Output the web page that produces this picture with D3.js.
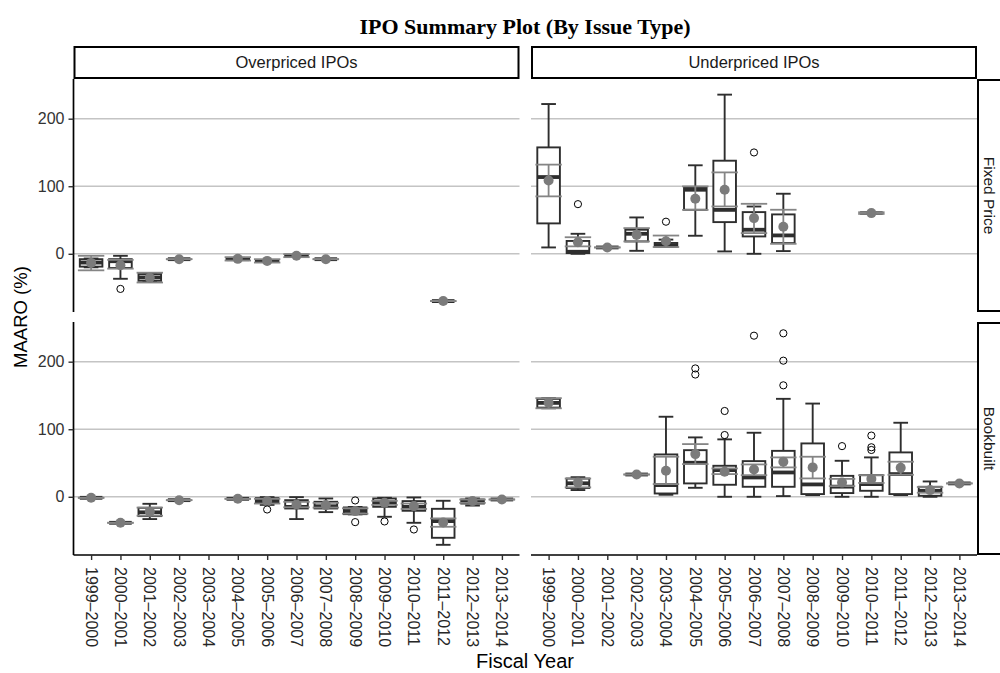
<!DOCTYPE html>
<html><head><meta charset="utf-8">
<script src="https://cdn.jsdelivr.net/npm/d3@7"></script>
<style>body{margin:0;background:#fff}</style>
</head><body>
<svg id="c" width="1000" height="673"></svg>
<script>
// ---------- data ----------
const fiscalYears = ["1999–2000","2000–2001","2001–2002","2002–2003","2003–2004","2004–2005","2005–2006","2006–2007","2007–2008","2008–2009","2009–2010","2010–2011","2011–2012","2012–2013","2013–2014"];
const colLabels = ["Overpriced IPOs","Underpriced IPOs"];
const rowLabels = ["Fixed Price","Bookbuilt"];
const yTicks = [0, 100, 200];
const yExtent = [-72, 243];

// [year, lowerWhisker, q1, median, q3, upperWhisker, mean, meanBarLow, meanBarHigh]
const overFixedStats = [
  ["1999–2000", -20, -19, -13, -8, -7, -13.5, -24.5, -3],
  ["2000–2001", -37, -21, -11, -8, -3, -17, -22, -9],
  ["2001–2002", -41, -40, -35, -30, -29, -35.5, -42.5, -28],
  ["2002–2003", -8, -8, -8, -8, -8, -8, -8, -8],
  ["2004–2005", -9, -9, -8, -7, -6, -7.5, -10, -5],
  ["2005–2006", -11, -11, -10.5, -10, -9.5, -10.5, -13, -8],
  ["2006–2007", -3.5, -3.5, -3, -2.5, -2, -3, -5, -0.5],
  ["2007–2008", -8, -8, -8, -8, -8, -8, -8, -8],
  ["2011–2012", -70, -70, -70, -70, -70, -70, -70, -70]
];
const overFixedOutliers = [["2000–2001", -52]];

const underFixedStats = [
  ["1999–2000", 9.4, 45, 113.6, 157.5, 221.7, 108.6, 85, 132],
  ["2000–2001", 0, 1, 3, 19, 29.6, 17, 11, 24.5],
  ["2001–2002", 9.4, 9.4, 9.4, 9.4, 9.4, 9.4, 9.4, 9.4],
  ["2002–2003", 4.4, 18.3, 29.6, 35.6, 53.8, 28, 18.3, 38],
  ["2003–2004", 10, 10.5, 12, 16, 21, 18.5, 10, 27],
  ["2004–2005", 26.7, 65.2, 94.8, 98.8, 131, 81.5, 65, 99.8],
  ["2005–2006", 3.5, 46.9, 65, 137.8, 235.6, 94.8, 70.1, 120.5],
  ["2006–2007", 0, 25.7, 35.6, 61.7, 70, 52.8, 30.6, 74],
  ["2007–2008", 4, 15.8, 27.2, 58.3, 88.9, 40, 14.8, 65.2],
  ["2010–2011", 60.2, 60.2, 60.2, 60.2, 60.2, 60.2, 59, 61.5]
];
const underFixedOutliers = [["2000–2001", 73.5], ["2003–2004", 47.5], ["2006–2007", 150]];

const overBookStats = [
  ["1999–2000", -1.5, -1.5, -1.5, -1.5, -1.5, -1.5, -1.5, -1.5],
  ["2000–2001", -38.5, -38.5, -38.5, -38.5, -38.5, -38.5, -38.5, -38.5],
  ["2001–2002", -33, -28.6, -23, -16.3, -10.4, -22, -28, -16],
  ["2002–2003", -5, -5, -5, -5, -5, -5, -5, -5],
  ["2004–2005", -3, -3, -3, -3, -3, -3, -3, -3],
  ["2005–2006", -12, -9, -5, -2, -0.5, -6.4, -10, -3],
  ["2006–2007", -33, -17.3, -15, -5, -0.5, -11.4, -15.5, -7.5],
  ["2007–2008", -22.7, -17.3, -14, -7.4, -2.5, -12.3, -16, -9],
  ["2008–2009", -26, -25.7, -21, -15.8, -15, -21.2, -25, -17],
  ["2009–2010", -29.6, -14.8, -8, -2.5, -1.5, -8.9, -12, -6],
  ["2010–2011", -38.5, -20.7, -15, -6.4, -1, -13.8, -18, -10],
  ["2011–2012", -71.1, -60.7, -36, -17.8, -5.9, -38, -44.4, -32],
  ["2012–2013", -13, -10, -7, -4, -2.5, -6.4, -9, -4],
  ["2013–2014", -4, -4, -4, -4, -4, -4, -4, -4]
];
const overBookOutliers = [["2005–2006", -18.8], ["2008–2009", -5.4], ["2008–2009", -37.5], ["2009–2010", -36.5], ["2010–2011", -48.4]];

const underBookStats = [
  ["1999–2000", 131, 132, 139, 145, 146, 139.3, 131, 146],
  ["2000–2001", 10, 13, 20, 27, 29, 21, 14, 27],
  ["2002–2003", 33, 33, 33, 33, 33, 33, 33, 33],
  ["2003–2004", 3, 4.9, 17.3, 62.7, 118.5, 38.5, 18.8, 59.3],
  ["2004–2005", 13.3, 19.8, 50.4, 69, 87.9, 63.2, 48.4, 78],
  ["2005–2006", 0, 17.8, 39.5, 45.9, 85, 37, 33.6, 42],
  ["2006–2007", 0, 14.8, 28.6, 52.8, 94.8, 40.5, 32, 47.9],
  ["2007–2008", 1, 14.8, 36, 68, 145, 51.9, 43.5, 58.3],
  ["2008–2009", 2.5, 4, 18.3, 79, 138, 43.5, 27.2, 59.3],
  ["2009–2010", 0, 5.5, 15, 31, 53.3, 21, 15.8, 26.5],
  ["2010–2011", 0, 8.9, 18.8, 32, 58.3, 26.5, 20.5, 32],
  ["2011–2012", 2.5, 4, 33.6, 65.7, 109.6, 43, 32.6, 51.9],
  ["2012–2013", 0, 1.5, 8.9, 14.8, 22.7, 9.9, 6, 14.5],
  ["2013–2014", 19.8, 19.8, 19.8, 19.8, 19.8, 19.8, 19.8, 19.8]
];
const underBookOutliers = [["2004–2005", 190], ["2004–2005", 181], ["2005–2006", 127], ["2005–2006", 91.4],
  ["2006–2007", 238.5], ["2007–2008", 242], ["2007–2008", 201.5], ["2007–2008", 165],
  ["2009–2010", 75], ["2010–2011", 90.6], ["2010–2011", 73.3], ["2010–2011", 69.3]];

// ---------- layout ----------
const svg = d3.select("#c");
const colX = [[73.5, 519.5], [531, 977]];
const rowY = [[79, 312], [322, 555]];
const dark = "#2e2e2e", greyC = "#858585", dotC = "#7b7b7b";
const sans = "'Liberation Sans', Arial, sans-serif";

const span = yExtent[1] - yExtent[0];
const yDomain = [yExtent[0] - span * 0.045, yExtent[1] + span * 0.05];

const panels = [
  {c: 0, r: 0, stats: overFixedStats, out: overFixedOutliers},
  {c: 1, r: 0, stats: underFixedStats, out: underFixedOutliers},
  {c: 0, r: 1, stats: overBookStats, out: overBookOutliers},
  {c: 1, r: 1, stats: underBookStats, out: underBookOutliers}
];

// title
svg.append("text").attr("x", 525).attr("y", 34).attr("text-anchor", "middle")
  .attr("font-family", "'Liberation Serif', 'Times New Roman', serif").attr("font-weight", "bold")
  .attr("font-size", 22).attr("fill", "#000").text("IPO Summary Plot (By Issue Type)");

panels.forEach(p => {
  const [x0, x1] = colX[p.c], [y0, y1] = rowY[p.r];
  const x = d3.scalePoint().domain(fiscalYears).range([x0, x1]).padding(0.6);
  const y = d3.scaleLinear().domain(yDomain).range([y1, y0]);
  const step = x.step();
  const g = svg.append("g");

  // grid
  g.selectAll(".grid").data(yTicks).join("line")
    .attr("x1", x0).attr("x2", x1).attr("y1", d => y(d)).attr("y2", d => y(d))
    .attr("stroke", "#c4c4c4").attr("stroke-width", 1.5);

  const bw = step * 0.77, ww = step * 0.5, ew = step * 0.9;
  p.stats.forEach(s => {
    const [yr, lo, q1, med, q3, hi, mean, eLo, eHi] = s;
    const cx = x(yr);
    // whiskers
    g.append("line").attr("x1", cx).attr("x2", cx).attr("y1", y(q3)).attr("y2", y(hi)).attr("stroke", dark).attr("stroke-width", 1.9);
    g.append("line").attr("x1", cx).attr("x2", cx).attr("y1", y(q1)).attr("y2", y(lo)).attr("stroke", dark).attr("stroke-width", 1.9);
    [lo, hi].forEach(v => g.append("line").attr("x1", cx - ww / 2).attr("x2", cx + ww / 2)
      .attr("y1", y(v)).attr("y2", y(v)).attr("stroke", dark).attr("stroke-width", 1.9));
    // box
    g.append("rect").attr("x", cx - bw / 2).attr("width", bw).attr("y", y(q3)).attr("height", Math.max(0, y(q1) - y(q3)))
      .attr("fill", "#fff").attr("stroke", dark).attr("stroke-width", 1.9);
    g.append("line").attr("x1", cx - bw / 2).attr("x2", cx + bw / 2).attr("y1", y(med)).attr("y2", y(med))
      .attr("stroke", dark).attr("stroke-width", 3.8);
    // mean bar
    g.append("line").attr("x1", cx).attr("x2", cx).attr("y1", y(eLo)).attr("y2", y(eHi)).attr("stroke", greyC).attr("stroke-width", 1.8);
    [eLo, eHi].forEach(v => g.append("line").attr("x1", cx - ew / 2).attr("x2", cx + ew / 2)
      .attr("y1", y(v)).attr("y2", y(v)).attr("stroke", greyC).attr("stroke-width", 1.8));
    g.append("circle").attr("cx", cx).attr("cy", y(mean)).attr("r", 5).attr("fill", dotC);
  });
  g.selectAll(".out").data(p.out).join("circle")
    .attr("cx", d => x(d[0])).attr("cy", d => y(d[1])).attr("r", 3.6)
    .attr("fill", "none").attr("stroke", "#000").attr("stroke-width", 1);

  // left axis
  if (p.c === 0) {
    const ax = svg.append("g").attr("transform", `translate(${x0},0)`)
      .call(d3.axisLeft(y).tickValues(yTicks).tickSize(5).tickPadding(4).tickFormat(d3.format("d")));
    ax.select(".domain").attr("stroke", "#000").attr("stroke-width", 1.7).attr("d", `M0,${y0}V${y1}`);
    ax.selectAll(".tick line").attr("stroke", dark).attr("stroke-width", 1.4);
    ax.selectAll(".tick text").attr("font-family", sans).attr("font-size", 16).attr("fill", "#333");
  }
  // bottom axis
  if (p.r === 1) {
    const ax = svg.append("g").attr("transform", `translate(0,${y1})`)
      .call(d3.axisBottom(x).tickSize(5).tickPadding(0));
    ax.select(".domain").attr("stroke", "#000").attr("stroke-width", 1.7).attr("d", `M${x0},0H${x1}`);
    ax.selectAll(".tick line").attr("stroke", dark).attr("stroke-width", 1.4);
    ax.selectAll(".tick text").attr("font-family", sans).attr("font-size", 16).attr("fill", "#262626")
      .attr("text-anchor", "start").attr("dy", null).attr("y", 0)
      .attr("transform", "translate(-6,12) rotate(90)");
  }
});

// top strips
colLabels.forEach((lab, i) => {
  const [x0, x1] = colX[i];
  svg.append("rect").attr("x", x0 + 1).attr("y", 47).attr("width", x1 - x0 - 2).attr("height", 31)
    .attr("fill", "#fff").attr("stroke", "#000").attr("stroke-width", 2);
  svg.append("text").attr("x", (x0 + x1) / 2).attr("y", 68).attr("text-anchor", "middle")
    .attr("font-family", sans).attr("font-size", 16.5).attr("fill", "#1a1a1a").text(lab);
});
// right strips
rowLabels.forEach((lab, i) => {
  const [y0, y1] = rowY[i];
  svg.append("rect").attr("x", 978).attr("y", y0 + 1).attr("width", 40).attr("height", y1 - y0 - 2)
    .attr("fill", "#fff").attr("stroke", "#000").attr("stroke-width", 2);
  svg.append("text").attr("transform", `translate(984,${(y0 + y1) / 2}) rotate(90)`).attr("text-anchor", "middle")
    .attr("font-family", sans).attr("font-size", 15.5).attr("fill", "#1a1a1a").text(lab);
});

// axis titles
svg.append("text").attr("x", 525).attr("y", 668).attr("text-anchor", "middle")
  .attr("font-family", sans).attr("font-size", 20).attr("fill", "#000").text("Fiscal Year");
svg.append("text").attr("transform", `translate(27,317) rotate(-90)`).attr("text-anchor", "middle")
  .attr("font-family", sans).attr("font-size", 18.5).attr("fill", "#000").text("MAARO (%)");
</script>
</body></html>
